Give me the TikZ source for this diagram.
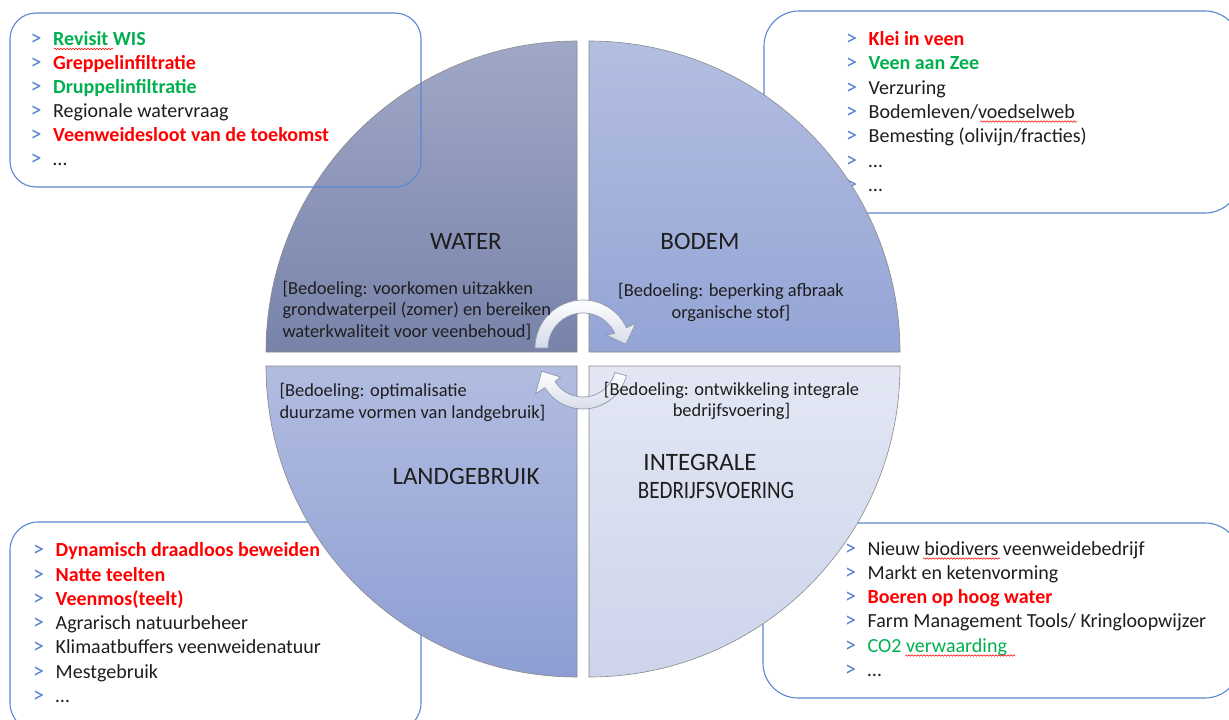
\documentclass[tikz,border=0pt]{standalone}
\usepackage{fontspec}
\setmainfont{Carlito}
\usetikzlibrary{calc,decorations.pathmorphing}
\definecolor{grn}{HTML}{00B050}
\definecolor{rd}{HTML}{FF0000}
\definecolor{bulc}{HTML}{4F7FCF}
\definecolor{boxc}{HTML}{5B87D2}
\definecolor{txt}{HTML}{1E1E1E}
\definecolor{qline}{HTML}{8A8A8A}
\definecolor{qat}{HTML}{A0A8C7}
\definecolor{qab}{HTML}{7883AA}
\definecolor{qbt}{HTML}{B3BEE1}
\definecolor{qbb}{HTML}{94A4D5}
\definecolor{qct}{HTML}{B1BCE0}
\definecolor{qcb}{HTML}{8D9ED3}
\definecolor{qdt}{HTML}{E3E7F4}
\definecolor{qdb}{HTML}{CDD4EB}
\definecolor{arl}{HTML}{8E97AA}
\definecolor{arb}{HTML}{D3D9E8}
\newcommand{\blt}{\makebox[22.5pt][l]{\textcolor{bulc}{\fontsize{22}{22}\selectfont >}}}
\newcommand{\gb}[1]{\textcolor{grn}{\textbf{#1}}}
\newcommand{\rb}[1]{\textcolor{rd}{\textbf{#1}}}
\begin{document}
\begin{tikzpicture}[x=1pt,y=-1pt,
  quad/.style={draw=qline, line width=0.6pt},
  listbox/.style={draw=boxc, line width=1.1pt},
  item/.style={anchor=base west, inner sep=0pt, font=\fontsize{20}{24}\selectfont, text=txt},
  title/.style={anchor=base, inner sep=0pt, font=\fontsize{25}{30}\selectfont, text=txt},
  bedl/.style={anchor=base west, inner sep=0pt, font=\fontsize{18.4}{22}\selectfont, text=txt},
  bedc/.style={anchor=base, inner sep=0pt, font=\fontsize{18.4}{22}\selectfont, text=txt},
  cyclearrow/.style={draw=arl, line width=0.7pt, top color=white, bottom color=arb},
  wavy/.style={draw=rd, line width=0.5pt, decorate, decoration={snake, amplitude=0.8pt, segment length=3pt}}]
\fill[white] (0,0) rectangle (1229,720);
\useasboundingbox (0,0) rectangle (1229,720);

% boxes lying under the circle
\draw[listbox, rounded corners=35pt] (764,11) rectangle (1240,213);
\draw[listbox, rounded corners=35pt] (763,523) rectangle (1240,698);
\draw[listbox, rounded corners=28pt] (10,522) rectangle (421,731);

% BODEM list (under the circle)
\node[item] (tr1) at (846,45.5) {\blt\rb{Klei in veen}};
\node[item] (tr2) at (846,69.8) {\blt\gb{Veen aan Zee}};
\node[item] (tr3) at (846,94.1) {\blt Verzuring};
\node[item] (tr4) at (846,118.4) {\blt Bodemleven/voedselweb};
\node[item] (tr5) at (846,142.7) {\blt Bemesting (olivijn/fracties)};
\node[item] (tr6) at (846,167) {\blt …};
\node[item] (tr7) at (846,191.3) {\blt …};
\draw[wavy] (980,121.5) -- (1077,121.5);

% quadrants
\path[quad, top color=qat, bottom color=qab] (577,352) -- (266,352) arc[start angle=180, end angle=270, radius=311] -- cycle;
\path[quad, top color=qbt, bottom color=qbb] (589,352) -- (589,41) arc[start angle=270, end angle=360, radius=311] -- cycle;
\path[quad, top color=qct, bottom color=qcb] (577,366) -- (266,366) arc[start angle=180, end angle=90, radius=311] -- cycle;
\path[quad, top color=qdt, bottom color=qdb] (589,366) -- (900,366) arc[start angle=0, end angle=90, radius=311] -- cycle;

% box lying over the circle
\draw[listbox, rounded corners=26pt] (10,13) rectangle (421,187);

% circular arrows
\coordinate (ca) at (583,348);
\coordinate (cb) at (583,364);
\path[cyclearrow] ($(ca)+(180:48)$) arc[start angle=180, end angle=335, radius=48]
  -- ($(ca)+(335:58)$) -- ($(ca)+(355:43)$) -- ($(ca)+(332:27)$) -- ($(ca)+(335:35)$)
  arc[start angle=335, end angle=180, radius=35] -- cycle;
\path[cyclearrow] ($(cb)+(15:45)$) arc[start angle=15, end angle=148, radius=45]
  -- ($(cb)+(148:56)$) -- ($(cb)+(170:42)$) -- ($(cb)+(150:26)$) -- ($(cb)+(148:33)$)
  arc[start angle=148, end angle=15, radius=33] -- cycle;

% titles
\node[title] (water) at (466,249.3) {WATER};
\node[title] (bodem) at (700,249.5) {BODEM};
\node[title] (land) at (466,484.5) {LANDGEBRUIK};
\node[title] (integ1) at (700,470) {INTEGRALE};
\node[title] (integ2) at (716,498) {\scalebox{0.84}[1]{BEDRIJFSVOERING}};

% bedoelingen
\node[bedl] (bw1) at (282.3,294) {[Bedoeling: voorkomen uitzakken};
\node[bedl] (bw2) at (282.3,315.5) {grondwaterpeil (zomer) en bereiken};
\node[bedl] (bw3) at (282.3,337) {waterkwaliteit voor veenbehoud]};
\node[bedc] (bb1) at (731,296.5) {[Bedoeling: beperking afbraak};
\node[bedc] (bb2) at (731,318.3) {organische stof]};
\node[bedl] (bl1) at (279.3,396.7) {[Bedoeling: optimalisatie};
\node[bedl] (bl2) at (279.3,418.5) {duurzame vormen van landgebruik]};
\node[bedc] (bi1) at (731.5,395) {[Bedoeling: ontwikkeling integrale};
\node[bedc] (bi2) at (731.5,416.7) {bedrijfsvoering]};

% WATER list
\node[item] (tl1) at (30.5,45) {\blt\gb{Revisit WIS}};
\node[item] (tl2) at (30.5,69) {\blt\rb{Greppelinfiltratie}};
\node[item] (tl3) at (30.5,93) {\blt\gb{Druppelinfiltratie}};
\node[item] (tl4) at (30.5,117) {\blt Regionale watervraag};
\node[item] (tl5) at (30.5,141) {\blt\rb{Veenweidesloot van de toekomst}};
\node[item] (tl6) at (30.5,165) {\blt …};
\draw[wavy] (54,49) -- (113,49);

% LANDGEBRUIK list
\node[item] (bl1i) at (33,556.7) {\blt\rb{Dynamisch draadloos beweiden}};
\node[item] (bl2i) at (33,581) {\blt\rb{Natte teelten}};
\node[item] (bl3i) at (33,605.3) {\blt\rb{Veenmos(teelt)}};
\node[item] (bl4i) at (33,629.6) {\blt Agrarisch natuurbeheer};
\node[item] (bl5i) at (33,653.9) {\blt Klimaatbuffers veenweidenatuur};
\node[item] (bl6i) at (33,678.2) {\blt Mestgebruik};
\node[item] (bl7i) at (33,702.5) {\blt …};

% INTEGRALE BEDRIJFSVOERING list
\node[item] (br1) at (845,555) {\blt Nieuw biodivers veenweidebedrijf};
\node[item] (br2) at (845,579.3) {\blt Markt en ketenvorming};
\node[item] (br3) at (845,603.6) {\blt\rb{Boeren op hoog water}};
\node[item] (br4) at (845,627.9) {\blt Farm Management Tools/ Kringloopwijzer};
\node[item] (br5) at (845,652.2) {\blt\textcolor{grn}{CO2 verwaarding}};
\node[item] (br6) at (845,676.5) {\blt …};
\draw[wavy] (923,558.5) -- (1000,558.5);
\draw[wavy] (905,655.5) -- (1015,655.5);
\end{tikzpicture}
\end{document}
